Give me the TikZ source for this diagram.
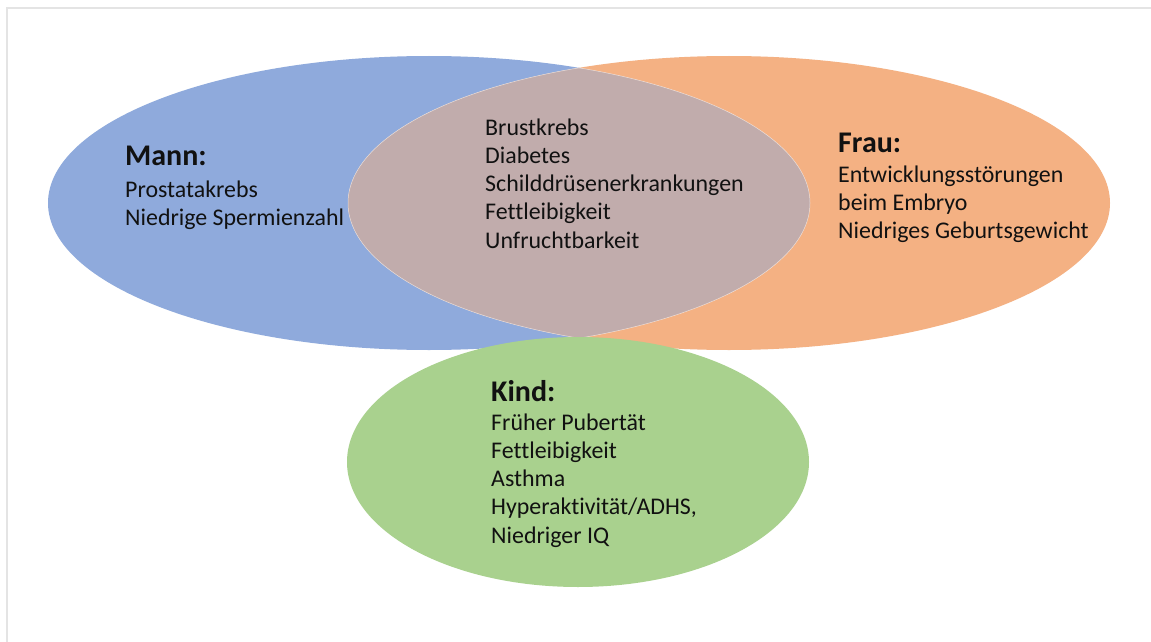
\documentclass[tikz,border=0pt]{standalone}
\usepackage{fontspec}
\setmainfont{Carlito}[Ligatures=NoCommon]
\definecolor{manblue}{HTML}{8FAADC}
\definecolor{frauorange}{HTML}{F4B183}
\definecolor{lensmauve}{HTML}{C1ACAC}
\definecolor{kindgreen}{HTML}{A9D18E}
\definecolor{framegray}{HTML}{E4E4E4}
\definecolor{txtcol}{HTML}{111111}
\newcommand{\bloc}[1]{\begin{tabular}[t]{@{}l@{}}#1\end{tabular}}
\begin{document}
\begin{tikzpicture}[x=1pt,y=-1pt,
  headtxt/.style={anchor=base west, inner sep=0pt, text=txtcol, font=\fontsize{30}{36}\selectfont\bfseries},
  listtxt/.style={anchor=base west, inner sep=0pt, text=txtcol, font=\fontsize{23.9}{28.3}\selectfont},
  edge/.style={white, line width=0.5pt, opacity=0.6}]
\useasboundingbox (0,0) rectangle (1151,642);
\fill[white] (0,0) rectangle (1151,642);
\draw[framegray, line width=2pt] (7,642) -- (7,8) -- (1151,8);
% Mann and Frau ellipses
\fill[manblue] (429,203) ellipse [x radius=381, y radius=147];
\fill[frauorange] (729,203) ellipse [x radius=381, y radius=147];
% overlap (lens)
\begin{scope}
  \clip (429,203) ellipse [x radius=381, y radius=147];
  \fill[lensmauve] (729,203) ellipse [x radius=381, y radius=147];
  \draw[edge] (729,203) ellipse [x radius=381, y radius=147];
\end{scope}
\begin{scope}
  \clip (729,203) ellipse [x radius=381, y radius=147];
  \draw[edge] (429,203) ellipse [x radius=381, y radius=147];
\end{scope}
% Kind ellipse
\fill[kindgreen] (578,462) ellipse [x radius=231, y radius=125];
% texts
\node[headtxt] (mannhead) at (125,165) {Mann:};
\node[listtxt] (mannlist) at (125,197) {\bloc{Prostatakrebs\\Niedrige Spermienzahl}};
\node[listtxt] (common) at (485,135) {\bloc{Brustkrebs\\Diabetes\\Schilddrüsenerkrankungen\\Fettleibigkeit\\Unfruchtbarkeit}};
\node[headtxt] (frauhead) at (838,152) {Frau:};
\node[listtxt] (fraulist) at (838,182) {\bloc{Entwicklungsstörungen\\beim Embryo\\Niedriges Geburtsgewicht}};
\node[headtxt] (kindhead) at (491,401) {Kind:};
\node[listtxt] (kindlist) at (491,430) {\bloc{Früher Pubertät\\Fettleibigkeit\\Asthma\\Hyperaktivität/ADHS,\\Niedriger IQ}};
\end{tikzpicture}
\end{document}
